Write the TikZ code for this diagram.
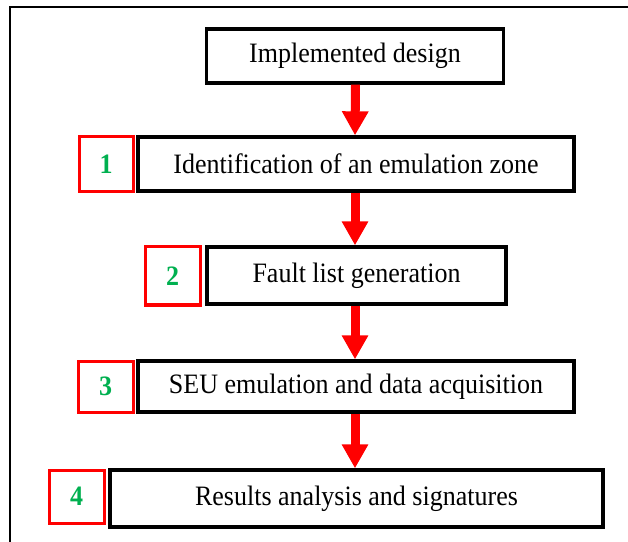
\documentclass[tikz,border=0pt]{standalone}
\usepackage{fontspec}
\usepackage{graphicx}
\setmainfont{Liberation Serif}
\usetikzlibrary{arrows.meta}
\definecolor{numgreen}{HTML}{00B050}
\newcommand{\talltext}[1]{\scalebox{1}[1.08]{#1}}
\begin{document}
\begin{tikzpicture}[x=1pt,y=1pt,
  stepbox/.style={draw=black,line width=3.3pt,fill=white,rectangle,inner sep=0pt,
    font=\fontsize{26}{30}\selectfont},
  numbox/.style={draw=red,line width=3pt,fill=white,rectangle,inner sep=0pt,
    text=numgreen,font=\fontsize{26}{30}\selectfont\bfseries},
  flow/.style={draw=red,line width=9pt,-{Triangle[width=25pt,length=24pt]}}]
\useasboundingbox (0,0) rectangle (628,541);
\fill[white] (0,0) rectangle (628,541);
% outer frame
\coordinate (fa) at (10,-5);
\coordinate (fb) at (10,534);
\coordinate (fc) at (640,534);
\draw[line width=1.5pt] (fa) -- (fb) -- (fc);
% step boxes
\node[stepbox,minimum width=297,minimum height=54] (b0) at (355,485) {\talltext{Implemented design}};
\node[stepbox,minimum width=436,minimum height=54] (b1) at (356,377) {\talltext{Identification of an emulation zone}};
\node[stepbox,minimum width=299,minimum height=57] (b2) at (356.5,265.5) {\talltext{Fault list generation}};
\node[stepbox,minimum width=436,minimum height=51] (b3) at (356,154.5) {\talltext{SEU emulation and data acquisition}};
\node[stepbox,minimum width=493,minimum height=57] (b4) at (356.5,42.5) {\talltext{Results analysis and signatures}};
% number boxes
\node[numbox,minimum width=54,minimum height=55] (r1) at (106,376.5) {\talltext{1}};
\node[numbox,minimum width=55,minimum height=58] (r2) at (172.5,265) {\talltext{2}};
\node[numbox,minimum width=55,minimum height=51] (r3) at (105.5,154.5) {\talltext{3}};
\node[numbox,minimum width=55,minimum height=53] (r4) at (76.5,44.5) {\talltext{4}};
% arrows
\draw[flow] ([xshift=0.5pt]b0.south) -- ([xshift=-1pt]b1.north);
\draw[flow] ([xshift=-1pt]b1.south) -- ([xshift=-1.5pt]b2.north);
\draw[flow] ([xshift=-1.5pt]b2.south) -- ([xshift=-1pt]b3.north);
\draw[flow] ([xshift=-1pt]b3.south) -- ([xshift=-1.5pt]b4.north);
\end{tikzpicture}
\end{document}
